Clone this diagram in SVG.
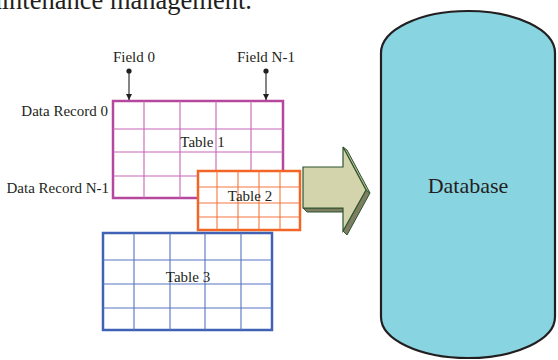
<svg xmlns="http://www.w3.org/2000/svg" width="558" height="360" viewBox="0 0 558 360">
<defs>
<style>
text{font-family:"Liberation Serif","Times New Roman",serif;fill:#231f20}
.lbl{font-size:15px}
.mid{text-anchor:middle}
.end{text-anchor:end}
.t1o{fill:#fff;stroke:#b5479f;stroke-width:2.5}
.t1i{stroke:#c766b5;stroke-width:1.1;fill:none}
.t2o{fill:#fff;stroke:#f26524;stroke-width:2.5}
.t2i{stroke:#f4773c;stroke-width:1.1;fill:none}
.t3o{fill:#fff;stroke:#3f62b5;stroke-width:2.5}
.t3i{stroke:#5574c0;stroke-width:1.1;fill:none}
.ptr{stroke:#231f20;stroke-width:1.1;fill:none}
</style>
<marker id="ah" viewBox="0 0 10 10" refX="10" refY="5" markerWidth="6" markerHeight="6" markerUnits="userSpaceOnUse" orient="auto">
<path d="M0,0 L10,5 L0,10 Z" fill="#231f20"/>
</marker>
</defs>
<rect width="558" height="360" fill="#fff"/>
<text x="-10" y="9" style="font-size:26.5px">aintenance management.</text>

<g id="table1">
<rect class="t1o" x="113" y="101" width="170" height="97"/>
<path class="t1i" d="M144,101V198M180,101V198M216,101V198M251,101V198M113,129H283M113,152H283M113,176H283"/>
<text class="lbl mid" x="202.5" y="147">Table 1</text>
</g>

<g id="table2">
<rect class="t2o" x="198" y="171" width="102" height="59"/>
<path class="t2i" d="M217,171V230M238,171V230M259,171V230M280,171V230M198,187H300M198,203H300M198,217H300"/>
<text class="lbl mid" x="250" y="201">Table 2</text>
</g>

<g id="table3">
<rect class="t3o" x="103" y="233" width="169" height="97"/>
<path class="t3i" d="M134,233V330M170,233V330M205,233V330M241,233V330M103,260H272M103,284H272M103,308H272"/>
<text class="lbl mid" x="188" y="282">Table 3</text>
</g>

<g id="labels">
<text class="lbl mid" x="134" y="62">Field 0</text>
<text class="lbl mid" x="266" y="62">Field N-1</text>
<text class="lbl end" x="108" y="116">Data Record 0</text>
<text class="lbl end" x="109" y="193">Data Record N-1</text>
</g>

<g id="connectors">
<circle cx="129" cy="71" r="2.6" fill="#231f20"/>
<line class="ptr" x1="129" y1="71" x2="129" y2="100" marker-end="url(#ah)"/>
<circle cx="266" cy="71" r="2.6" fill="#231f20"/>
<line class="ptr" x1="266" y1="71" x2="266" y2="100" marker-end="url(#ah)"/>
</g>

<g id="arrow">
<polygon points="303,208 343,208 347,212 307,212" fill="#7f7d62" stroke="#2c5530" stroke-width="1"/>
<polygon points="366,190 343,231 347,235 370,193" fill="#7f7d62" stroke="#2c5530" stroke-width="1"/>
<polygon points="343,147 366,190 370,193 347,150" fill="#b9b98f" stroke="#2c5530" stroke-width="1"/>
<polygon points="303,167 343,167 343,147 366,190 343,231 343,208 303,208" fill="#d3d4ab" stroke="#2c5530" stroke-width="1.2"/>
</g>

<g id="database">
<path d="M381,53 A87,42 0 0 1 555,53 L555,317 A87,41 0 0 1 381,317 Z" fill="#89d4e1" stroke="#231f20" stroke-width="2.2"/>
<text class="mid" x="468" y="193" style="font-size:22px">Database</text>
</g>
</svg>
